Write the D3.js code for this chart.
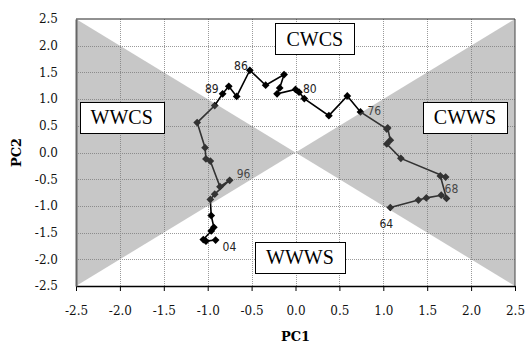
<!DOCTYPE html>
<html>
<head>
<meta charset="utf-8">
<script src="https://cdn.jsdelivr.net/npm/d3@7"></script>
<style>
  body { margin: 0; background: #fff; }
  svg { display: block; }
</style>
</head>
<body>
<svg id="chart" width="525" height="343"></svg>
<script>
// yearly scores, 1964 -> 2004
const years = ["64","65","66","67","68","69","70","71","72","73","74","75","76","77","78","79","80","81","82","83","84","85","86","87","88","89","90","91","92","93","94","95","96","97","98","99","00","01","02","03","04"];
const pc1 = [1.08, 1.40, 1.49, 1.66, 1.72, 1.65, 1.71, 1.20, 1.04, 1.08, 1.05, 1.04, 0.74, 0.59, 0.38, 0.10, 0.04, 0.00, -0.21, -0.18, -0.13, -0.34, -0.52, -0.67, -0.76, -0.83, -0.92, -1.12, -1.03, -1.02, -0.97, -0.86, -0.75, -0.92, -0.97, -0.96, -0.93, -0.96, -1.05, -1.02, -0.91];
const pc2 = [-1.03, -0.89, -0.85, -0.80, -0.86, -0.44, -0.46, -0.11, 0.16, 0.23, 0.46, 0.44, 0.76, 1.06, 0.69, 1.01, 1.13, 1.18, 1.10, 1.21, 1.46, 1.26, 1.54, 1.05, 1.24, 1.10, 0.88, 0.56, 0.09, -0.12, -0.16, -0.64, -0.52, -0.78, -0.88, -1.18, -1.40, -1.47, -1.63, -1.66, -1.64];
const labelled = ["64","68","76","80","86","89","96","04"];
const ticks = [-2.5, -2.0, -1.5, -1.0, -0.5, 0.0, 0.5, 1.0, 1.5, 2.0, 2.5];
const quadrants = [
  { name: "WWCS", x: -1.98, y: 0.66 },
  { name: "CWCS", x: 0.22, y: 2.13 },
  { name: "CWWS", x: 1.93, y: 0.66 },
  { name: "WWWS", x: 0.05, y: -1.96 }
];

// label offsets in px (style only)
const labelPos = {
  "64": [-4, 20, "middle"], "68": [-2, -5, "start"], "76": [7, 3, "start"], "80": [4, 1, "start"],
  "86": [-2, 0, "end"], "89": [-4, -1, "end"], "96": [7, -2, "start"], "04": [7, 11, "start"]
};

const svg = d3.select("#chart");
const x = d3.scaleLinear().domain([-2.5, 2.5]).range([76, 515]);
const y = d3.scaleLinear().domain([-2.5, 2.5]).range([286, 19]);
const serif = "'DejaVu Serif', serif";

// grid
const grid = svg.append("g").attr("stroke", "#9a9a9a").attr("stroke-dasharray", "1,1").attr("stroke-width", 1);
grid.selectAll(".gx").data(ticks.slice(1, -1)).join("line")
  .attr("x1", d => Math.round(x(d)) + 0.5).attr("x2", d => Math.round(x(d)) + 0.5)
  .attr("y1", y(2.5)).attr("y2", y(-2.5));
grid.selectAll(".gy").data(ticks.slice(1, -1)).join("line")
  .attr("y1", d => Math.round(y(d)) + 0.5).attr("y2", d => Math.round(y(d)) + 0.5)
  .attr("x1", x(-2.5)).attr("x2", x(2.5));

// series
const pts = years.map((yr, i) => ({ yr, a: pc1[i], b: pc2[i] }));
svg.append("path").datum(pts)
  .attr("fill", "none").attr("stroke", "#000").attr("stroke-width", 1.6)
  .attr("d", d3.line().x(d => x(d.a)).y(d => y(d.b)));
svg.selectAll(".pt").data(pts).join("path")
  .attr("d", d3.symbol(d3.symbolSquare, 30))
  .attr("transform", d => `translate(${x(d.a)},${y(d.b)}) rotate(45)`)
  .attr("fill", "#000");
svg.selectAll(".lab").data(pts.filter(d => labelled.includes(d.yr))).join("text")
  .attr("x", d => x(d.a) + labelPos[d.yr][0])
  .attr("y", d => y(d.b) + labelPos[d.yr][1])
  .attr("text-anchor", d => labelPos[d.yr][2])
  .attr("font-family", "'DejaVu Sans Condensed', 'DejaVu Sans', sans-serif")
  .attr("font-size", 12).attr("fill", "#222")
  .text(d => d.yr);

// shaded wedges, laid over the series
const wedge = d3.line().x(d => x(d[0])).y(d => y(d[1]));
svg.selectAll(".wedge").data([
  [[-2.5, 2.5], [0, 0], [-2.5, -2.5]],
  [[2.5, 2.5], [0, 0], [2.5, -2.5]]
]).join("path")
  .attr("d", d => wedge(d) + "Z")
  .attr("fill", "rgb(122,122,122)").attr("fill-opacity", 0.42);

// frame
svg.append("line").attr("x1", x(-2.5)).attr("x2", x(2.5)).attr("y1", y(2.5)).attr("y2", y(2.5)).attr("stroke", "#222");
svg.append("line").attr("x1", x(2.5)).attr("x2", x(2.5)).attr("y1", y(2.5)).attr("y2", y(-2.5)).attr("stroke", "#444");

// axes
const xAxis = svg.append("g").attr("transform", `translate(0,${y(-2.5)})`)
  .call(d3.axisBottom(x).tickValues(ticks).tickFormat(d => d.toFixed(1)).tickSize(5).tickPadding(15).tickSizeOuter(0));
xAxis.select(".domain").attr("stroke", "#000").attr("stroke-width", 1.5);
const yAxis = svg.append("g").attr("transform", `translate(${x(-2.5)},0)`)
  .call(d3.axisLeft(y).tickValues(ticks).tickFormat(d => d.toFixed(1)).tickSize(0).tickPadding(18));
yAxis.select(".domain").attr("stroke", "#666").attr("stroke-width", 2);
svg.selectAll(".tick text").attr("font-family", serif).attr("font-size", 12).attr("fill", "#111");

svg.append("text").attr("x", x(0)).attr("y", 341).attr("text-anchor", "middle")
  .attr("font-family", serif).attr("font-weight", "bold").attr("font-size", 13).text("PC1");
svg.append("text").attr("transform", `translate(21,${y(0)}) rotate(-90)`).attr("text-anchor", "middle")
  .attr("font-family", serif).attr("font-weight", "bold").attr("font-size", 13).text("PC2");

// quadrant boxes
quadrants.forEach(q => {
  const g = svg.append("g");
  const t = g.append("text").attr("x", x(q.x)).attr("y", y(q.y) + 7).attr("text-anchor", "middle")
    .attr("font-family", "'Liberation Serif', serif").attr("font-size", 20).attr("fill", "#000").text(q.name);
  const bb = t.node().getBBox();
  g.insert("rect", "text")
    .attr("x", Math.round(bb.x - 11) + 0.5).attr("y", Math.round(y(q.y) - 15.5) + 0.5)
    .attr("width", Math.round(bb.width + 22)).attr("height", 31)
    .attr("fill", "#fff").attr("stroke", "#000");
});
</script>
</body>
</html>
